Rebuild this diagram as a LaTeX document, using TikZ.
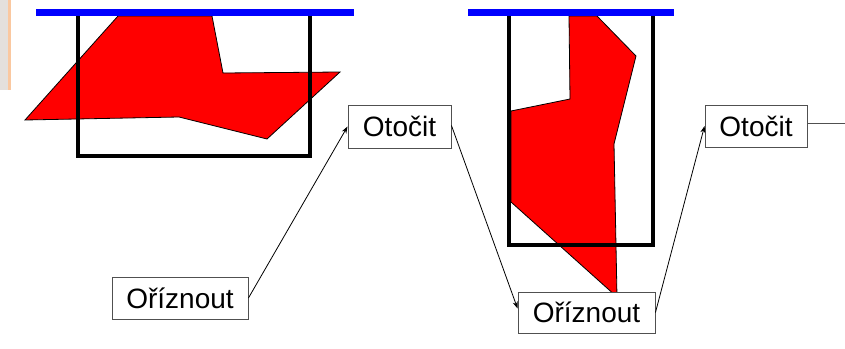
\documentclass[tikz,border=0pt]{standalone}
\usepackage{fontspec}
\setmainfont{Liberation Sans}
\usetikzlibrary{arrows.meta}
\definecolor{polyred}{RGB}{255,0,0}
\definecolor{barblue}{RGB}{0,0,255}
\definecolor{stripgray}{RGB}{228,224,220}
\definecolor{striporange}{RGB}{250,200,160}
\tikzset{
  label box/.style={draw={rgb,255:red,80;green,80;blue,80}, line width=0.9pt, fill=white, inner sep=0pt,
    font=\fontsize{28}{32}\selectfont, text=black},
  conn/.style={line width=0.8pt, -{Stealth[length=7pt,width=5pt]}},
  polyshape/.style={fill=polyred, draw=black, line width=0.8pt, line join=miter},
  frame/.style={draw=black, line width=4pt},
  bar/.style={draw=barblue, line width=6.5pt}
}
\begin{document}
\begin{tikzpicture}[x=1pt,y=-1pt]
\useasboundingbox (0,0) rectangle (845,348);
% background strip at left edge
\fill[stripgray] (0,0) rectangle (10,90);
\fill[striporange] (8,0) rectangle (10.5,90);
% panel 1
\draw[polyshape] (118,16) -- (212,16) -- (223,73) -- (340,72) -- (267,139) -- (179,117) -- (25,120) -- cycle;
\draw[frame] (78,16) -- (78,156) -- (310,156) -- (310,16);
\draw[bar] (36,12.5) -- (354,12.5);
% panel 2
\draw[polyshape] (569,16) -- (597,16) -- (636,56) -- (614,144) -- (617,297) -- (511,202) -- (511,111) -- (570,99) -- cycle;
\draw[frame] (509,16) -- (509,245) -- (653,245) -- (653,16);
\draw[bar] (468,12.5) -- (674,12.5);
% boxes
\node[label box, minimum width=103pt, minimum height=43pt] (t1) at (399.5,126.5) {Otočit};
\node[label box, minimum width=136pt, minimum height=42pt] (r1) at (180,298) {Oříznout};
\node[label box, minimum width=137pt, minimum height=41pt] (r2) at (586.5,312.5) {Oříznout};
\node[label box, minimum width=102pt, minimum height=42pt] (t2) at (756,126) {Otočit};
\coordinate (edge) at (845,123);
% connectors
\draw[conn] (r1.east) -- (t1.west);
\draw[conn] ([yshift=1pt]t1.east) -- ([yshift=4pt]r2.west);
\draw[conn] (r2.east) -- (t2.west);
\draw[draw={rgb,255:red,80;green,80;blue,80}, line width=0.9pt] ([yshift=3pt]t2.east) -- (edge);
\end{tikzpicture}
\end{document}
